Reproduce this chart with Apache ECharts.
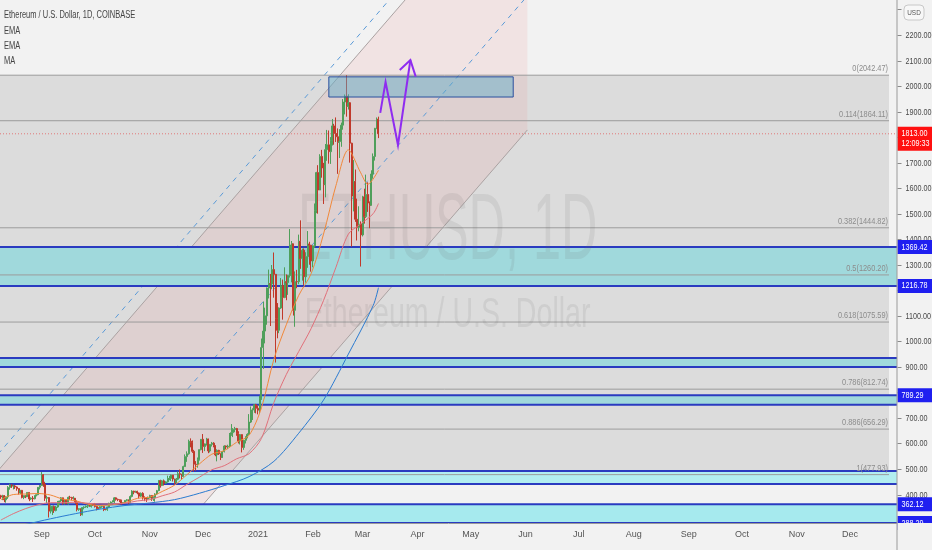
<!DOCTYPE html>
<html><head><meta charset="utf-8">
<script src="https://cdn.jsdelivr.net/npm/echarts@6/dist/echarts.min.js"></script>
<style>html,body{margin:0;padding:0;background:#f2f2f2}#c{width:932px;height:550px}</style>
</head><body><div id="c"></div>
<script>
// ---------- data ----------
const monthNames = ['Jan','Feb','Mar','Apr','May','Jun','Jul','Aug','Sep','Oct','Nov','Dec'];
const firstDate = '2020-08-09';
const dayCount = 506;
const firstOpen = 395;
// daily [high, low, close]; open = previous close
const aug2020 = [[399,383,390.5],[399,378,395.0],[398,370,379.5],[393,368,390.4],[433,383,428.0],[442,419,437.4],[440,426,433.4],[438,420,433.6],[437,422,429.6],[432,415,423.2],[424,400,406.4],[418,402,416.4],[418,385,388.5],[396,382,395.9],[397,386,391.5],[409,391,408.1],[408,374,382.5],[389,379,386.1],[394,371,383.4],[397,381,395.7],[401,393,399.4],[429,397,428.4],[437,420,435.2]];
const sep2020 = [[488,434,477.1],[480,430,440.3],[450,375,385.6],[396,367,388.3],[390,310,335.0],[358,326,352.7],[356,320,353.2],[357,328,337.6],[355,334,351.2],[375,348,368.1],[376,360,374.7],[390,371,387.2],[388,360,366.0],[381,361,377.2],[380,362,364.8],[392,360,389.1],[395,380,388.6],[391,377,384.6],[393,380,385.4],[386,363,370.4],[377,334,341.8],[346,336,344.5],[346,316,321.2],[350,318,349.0],[354,342,351.3],[357,348,354.3],[359,347,357.1],[364,352,354.3],[361,349,359.8],[362,355,359.7]];
const oct2020 = [[367,349,353.2],[356,338,346.3],[350,344,346.1],[354,345,352.5],[355,348,352.9],[355,335,341.3],[344,338,341.2],[353,336,351.3],[368,348,365.3],[373,363,370.4],[377,369,375.2],[390,367,387.0],[389,376,381.2],[384,374,379.7],[381,370,377.3],[380,360,366.5],[370,365,368.2],[378,367,377.1],[382,373,379.5],[380,362,368.0],[397,366,392.4],[417,389,413.4],[415,401,409.3],[415,407,412.3],[415,401,406.2],[408,385,393.6],[408,390,404.6],[409,380,388.3],[393,374,386.6],[390,371,382.6],[392,380,386.1]];
const nov2020 = [[399,385,396.4],[397,375,383.2],[393,375,387.5],[405,372,402.1],[418,398,415.2],[457,413,454.2],[458,427,435.3],[457,433,453.5],[459,435,444.2],[452,442,449.6],[474,447,462.6],[473,456,463.0],[478,453,475.9],[475,451,460.7],[462,440,447.2],[465,445,459.7],[490,456,481.6],[498,463,479.4],[481,460,471.3],[513,470,509.6],[557,508,548.6],[569,528,559.6],[615,556,608.6],[620,585,603.9],[612,563,569.2],[575,490,518.8],[531,493,517.6],[545,505,538.2],[577,533,575.8],[617,573,616.4]];
const dec2020 = [[637,563,588.0],[600,570,598.4],[622,592,617.4],[619,562,570.8],[598,565,596.4],[606,588,601.4],[605,585,591.8],[593,550,555.5],[577,530,573.1],[575,555,559.8],[561,535,545.7],[570,543,568.3],[593,565,590.0],[592,577,586.4],[595,578,589.1],[641,585,636.2],[676,630,642.4],[660,625,654.8],[665,644,658.4],[661,630,638.2],[648,600,609.8],[637,596,634.7],[636,565,584.3],[614,575,612.4],[628,600,626.4],[640,620,635.8],[715,632,683.8],[745,680,731.5],[738,692,732.6],[754,720,751.6],[755,718,737.8]];
const jan2021 = [[749,714,730.4],[787,715,774.6],[1011,771,975.5],[1156,892,1040.2],[1132,992,1100.0],[1211,1065,1208.8],[1281,1168,1225.7],[1264,1060,1224.9],[1299,1204,1281.0],[1348,1171,1262.5],[1264,917,1090.1],[1150,1012,1043.4],[1133,1032,1130.7],[1248,1127,1218.9],[1242,1085,1171.8],[1290,1169,1233.5],[1262,1161,1230.2],[1260,1182,1257.6],[1440,1250,1377.6],[1393,1231,1382.2],[1382,1101,1121.6],[1274,1057,1234.1],[1280,1208,1233.9],[1418,1224,1391.6],[1474,1284,1324.4],[1363,1238,1357.1],[1364,1221,1253.2],[1349,1230,1331.9],[1432,1288,1381.2],[1390,1300,1376.8],[1378,1273,1314.9]];
const feb2021 = [[1376,1290,1374.2],[1540,1366,1511.6],[1664,1502,1661.0],[1690,1500,1592.6],[1733,1595,1724.5],[1750,1641,1679.1],[1699,1538,1613.9],[1773,1564,1750.9],[1828,1707,1769.7],[1826,1696,1743.0],[1800,1695,1785.6],[1871,1767,1843.8],[1852,1770,1814.1],[1877,1781,1801.4],[1834,1656,1779.4],[1831,1718,1782.5],[1857,1762,1846.8],[1949,1829,1937.4],[1967,1889,1960.2],[2042,1880,1920.6],[1968,1908,1934.7],[1937,1700,1776.1],[1778,1371,1569.3],[1710,1509,1625.9],[1673,1468,1478.2],[1559,1395,1446.8],[1529,1431,1459.3],[1470,1293,1417.0]];
const mar2021 = [[1570,1411,1565.6],[1598,1461,1488.6],[1653,1483,1575.2],[1623,1507,1541.9],[1548,1443,1532.6],[1670,1532,1655.4],[1736,1637,1724.1],[1836,1708,1834.4],[1877,1831,1870.0],[1880,1796,1813.0]];

// moving averages, [date, value]
const emaFast = [['2020-08-09',380],['2020-08-16',400],['2020-08-23',402],['2020-08-30',404],['2020-09-06',398],['2020-09-13',382],['2020-09-20',376],['2020-09-27',362],['2020-10-04',357],['2020-10-11',360],['2020-10-18',368],['2020-10-25',385],['2020-11-01',390],['2020-11-08',412],['2020-11-15',437],['2020-11-22',478],['2020-11-29',520],['2020-12-06',558],['2020-12-13',572],['2020-12-20',605],['2020-12-27',632],['2021-01-03',740],['2021-01-10',930],['2021-01-17',1065],['2021-01-24',1180],['2021-01-31',1265],['2021-02-07',1420],['2021-02-14',1610],['2021-02-21',1750],['2021-02-28',1660],['2021-03-04',1615],['2021-03-10',1670]];
const emaSlow = [['2020-08-09',300],['2020-08-16',325],['2020-08-23',345],['2020-08-30',360],['2020-09-06',368],['2020-09-13',368],['2020-09-20',370],['2020-09-27',366],['2020-10-04',363],['2020-10-11',363],['2020-10-18',366],['2020-10-25',375],['2020-11-01',380],['2020-11-08',395],['2020-11-15',410],['2020-11-22',440],['2020-11-29',468],['2020-12-06',497],['2020-12-13',513],['2020-12-20',540],['2020-12-27',560],['2021-01-03',620],['2021-01-10',760],['2021-01-17',870],['2021-01-24',960],['2021-01-31',1050],['2021-02-07',1160],['2021-02-14',1290],['2021-02-21',1420],['2021-02-28',1460],['2021-03-07',1500],['2021-03-10',1540]];
const maLong = [['2020-08-09',262],['2020-08-23',283],['2020-09-06',305],['2020-09-20',325],['2020-10-04',343],['2020-10-18',357],['2020-11-01',367],['2020-11-15',380],['2020-11-29',405],['2020-12-13',435],['2020-12-27',470],['2021-01-10',530],['2021-01-24',640],['2021-02-07',770],['2021-02-21',950],['2021-03-07',1140],['2021-03-10',1210]];

// fibonacci retracement
const fibRatios = ['0','0.114','0.382','0.5','0.618','0.786','0.886','1'];
const fibPrices = [2042.47,1864.11,1444.82,1260.20,1075.59,812.74,656.29,477.93];
const fibEnd = '2021-12-23';
// support/resistance zones [top, bottom]
const zones = [[1369.42,1216.78],[935,900],[789.29,752],[492,441],[362.12,288.29]];
const zoneFills = ['#a0d9dc','#a0d9dc','#a0d9dc','#b2eef0','#a6eaee'];
// price tags on the axis
const tagPrices = [1369.42,1216.78,789.29,362.12,288.29];
const lastPrice = 1813.00, lastTime = '12:09:33';
const yTicks = [400,500,600,700,800,900,1000,1100,1200,1300,1400,1500,1600,1700,1800,1900,2000,2100,2200,2300];
// drawings
const targetBox = [['2021-02-10',2036],['2021-05-25',1957]];
const pathPoints = [['2021-03-11',1895],['2021-03-14',2016],['2021-03-21',1769],['2021-03-28',2102]];
const arrowBarbs = [['2021-03-22',2063],['2021-03-31',2037]];
// channel lines (two anchors each) and channel end date
const chLower = [['2020-11-22',288],['2021-06-02',1828]];
const chMiddle = [['2020-09-18',288],['2021-05-31',2337]];
const chUpper = [['2020-07-20',346],['2021-03-25',2337]];
const upperDash = [['2020-08-09',571],['2021-03-16',2337]];
const chEnd = '2021-06-02';
// watermark anchors
const wmMain = ['2021-04-18',1425], wmSub = ['2021-04-18',1103];

// ---------- build ----------
const DAY0 = Date.UTC(2020,7,9);
function idxOf(s){const p=s.split('-').map(Number);return Math.round((Date.UTC(p[0],p[1]-1,p[2])-DAY0)/86400000);}
const categories=[];
for(let i=0;i<dayCount;i++){const d=new Date(DAY0+i*86400000);categories.push(d.toISOString().slice(0,10));}
const candles=[];
let prev=firstOpen;
[aug2020,sep2020,oct2020,nov2020,dec2020,jan2021,feb2021,mar2021].forEach(m=>m.forEach(r=>{candles.push([prev,r[2],r[1],r[0]]);prev=r[2];}));
const toXY = a=>a.map(p=>[idxOf(p[0]),p[1]]);
const XMIN=-0.5, XMAX=dayCount-0.5;
function lineAt(l, x){const a=[idxOf(l[0][0]),l[0][1]],b=[idxOf(l[1][0]),l[1][1]];return a[1]+(b[1]-a[1])*(x-a[0])/(b[0]-a[0]);}

const chart = echarts.init(document.getElementById('c'));
const F = '"Liberation Sans",Arial,sans-serif';
const GRID = {left:0,right:35,top:0,bottom:27};

function bg(render, z){return {type:'custom',xAxisIndex:1,yAxisIndex:0,clip:true,z:z,silent:true,data:[0],renderItem:render};}

const series = [];
// fib fill
series.push(bg((p,api)=>{
  const a=api.coord([XMIN,fibPrices[0]]), b=api.coord([idxOf(fibEnd),fibPrices[fibPrices.length-1]]);
  return {type:'rect',shape:{x:a[0],y:a[1],width:b[0]-a[0],height:b[1]-a[1]},style:{fill:'#dcdcdc'}};
},1));
// channel fill + lines
series.push(bg((p,api)=>{
  const e=idxOf(chEnd), L=XMIN-60;
  const pts=[[L,lineAt(chUpper,L)],[e,lineAt(chUpper,e)],[e,lineAt(chLower,e)],[L,lineAt(chLower,L)]].map(q=>api.coord(q));
  const seg=(l,dash,col,x2)=>{const s=api.coord([L,lineAt(l,L)]),t=api.coord([x2,lineAt(l,x2)]);return {type:'line',shape:{x1:s[0],y1:s[1],x2:t[0],y2:t[1]},style:{stroke:col,lineWidth:1,lineDash:dash}};};
  return {type:'group',children:[
    {type:'polygon',shape:{points:pts},style:{fill:'rgba(235,150,150,0.16)'}},
    seg(chUpper,null,'#aaa2a2',e), seg(chLower,null,'#aaa2a2',e), seg(chMiddle,[5,5],'#5b9bd8',e), seg(upperDash,[5,5],'#5b9bd8',e)
  ]};
},1));
// zones
series.push(bg((p,api)=>{
  const ch=[];
  zones.forEach((z,i)=>{
    const a=api.coord([XMIN,z[0]]), b=api.coord([XMAX,z[1]]);
    ch.push({type:'rect',shape:{x:a[0],y:a[1],width:b[0]-a[0],height:b[1]-a[1]},style:{fill:zoneFills[i]}});
    ch.push({type:'line',shape:{x1:a[0],y1:a[1],x2:b[0],y2:a[1]},style:{stroke:'#2a3bc0',lineWidth:2}});
    ch.push({type:'line',shape:{x1:a[0],y1:b[1],x2:b[0],y2:b[1]},style:{stroke:'#2a3bc0',lineWidth:2}});
  });
  return {type:'group',children:ch};
},1));
// fib lines + labels
series.push(bg((p,api)=>{
  const ch=[];
  fibPrices.forEach((v,i)=>{
    const a=api.coord([XMIN,v]), b=api.coord([idxOf(fibEnd),v]);
    ch.push({type:'line',shape:{x1:a[0],y1:a[1],x2:b[0],y2:b[1]},style:{stroke:'#9c9c9c',lineWidth:1}});
    ch.push({type:'text',x:b[0]-1,y:b[1]-2,scaleX:0.82,style:{text:fibRatios[i]+'('+v.toFixed(2)+')',x:0,y:0,align:'right',verticalAlign:'bottom',fill:'#8c8c8c',font:'9px '+F}});
  });
  return {type:'group',children:ch};
},1));
// watermark
series.push(bg((p,api)=>{
  const c1=api.coord([idxOf(wmMain[0]),wmMain[1]]), c2=api.coord([idxOf(wmSub[0]),wmSub[1]]);
  return {type:'group',children:[
    {type:'text',x:c1[0],y:c1[1],scaleX:0.53,style:{text:'ETHUSD, 1D',x:0,y:0,align:'center',verticalAlign:'middle',fill:'rgba(110,110,110,0.12)',font:'95px '+F}},
    {type:'text',x:c2[0],y:c2[1],scaleX:0.68,style:{text:'Ethereum / U.S. Dollar',x:0,y:0,align:'center',verticalAlign:'middle',fill:'rgba(110,110,110,0.12)',font:'42px '+F}}
  ]};
},1));
// current price dotted line
series.push(bg((p,api)=>{
  const a=api.coord([XMIN,lastPrice]), b=api.coord([XMAX,lastPrice]);
  return {type:'line',shape:{x1:a[0],y1:a[1],x2:b[0],y2:b[1]},style:{stroke:'#e07a7a',lineWidth:1,lineDash:[1,2]}};
},2));
// candles
series.push({type:'candlestick',xAxisIndex:0,yAxisIndex:0,z:3,barWidth:1.5,data:candles,
  itemStyle:{color:'#4f9f5b',color0:'#c0392b',borderColor:'#4f9f5b',borderColor0:'#c0392b',borderWidth:1}});
// MAs
[[emaFast,'#f0883a'],[emaSlow,'#e0707a'],[maLong,'#2b7bd0']].forEach(([d,c])=>{
  series.push({type:'line',xAxisIndex:1,yAxisIndex:0,z:4,data:toXY(d),smooth:0.3,showSymbol:false,symbol:'none',lineStyle:{color:c,width:1},clip:true,silent:true});
});
// box + purple path
series.push(bg((p,api)=>{
  const a=api.coord([idxOf(targetBox[0][0]),targetBox[0][1]]), b=api.coord([idxOf(targetBox[1][0]),targetBox[1][1]]);
  const pts=pathPoints.map(q=>api.coord([idxOf(q[0]),q[1]]));
  const tip=pts[pts.length-1];
  const barbs=arrowBarbs.map(q=>api.coord([idxOf(q[0]),q[1]]));
  return {type:'group',children:[
    {type:'rect',shape:{x:a[0],y:a[1],width:b[0]-a[0],height:b[1]-a[1]},style:{fill:'rgba(90,170,200,0.45)',stroke:'#2b4f9e',lineWidth:1}},
    {type:'polyline',shape:{points:pts},style:{stroke:'#8f2cf0',lineWidth:2,fill:null}},
    {type:'polyline',shape:{points:[barbs[0],tip,barbs[1]]},style:{stroke:'#8f2cf0',lineWidth:2,fill:null}}
  ]};
},5));
// y-axis ticks, labels and price tags (outside the grid)
series.push({type:'custom',xAxisIndex:1,yAxisIndex:0,clip:false,z:10,silent:true,data:[0],renderItem:(p,api)=>{
  const ch=[]; const x0=api.coord([XMAX,0])[0]+0.5; const yBottom=api.coord([XMAX,288.5])[1];
  yTicks.forEach(v=>{const y=Math.round(api.coord([XMAX,v])[1])+0.5;
    ch.push({type:'line',shape:{x1:x0,y1:y,x2:x0+4,y2:y},style:{stroke:'#8a8a8a',lineWidth:1}});
    ch.push({type:'text',x:x0+8,y:y,scaleX:0.8,style:{text:v.toFixed(2),x:0,y:0,verticalAlign:'middle',fill:'#4a4a4a',font:'9px '+F}});
  });
  tagPrices.forEach(v=>{const y=api.coord([XMAX,v])[1];
    ch.push({type:'rect',shape:{x:x0,y:y-7,width:40,height:14},style:{fill:'#1f1ff0'}});
    ch.push({type:'text',x:x0+4,y:y,scaleX:0.8,style:{text:v.toFixed(2),x:0,y:0,verticalAlign:'middle',fill:'#fff',font:'9px '+F}});
  });
  const y=api.coord([XMAX,lastPrice])[1];
  ch.push({type:'rect',shape:{x:x0,y:y-7,width:40,height:24},style:{fill:'#ff1010'}});
  ch.push({type:'text',x:x0+4,y:y,scaleX:0.8,style:{text:lastPrice.toFixed(2),x:0,y:0,verticalAlign:'middle',fill:'#fff',font:'9px '+F}});
  ch.push({type:'text',x:x0+4,y:y+10,scaleX:0.8,style:{text:lastTime,x:0,y:0,verticalAlign:'middle',fill:'#fff',font:'9px '+F}});
  // cover below the plot, keep axis line going down
  ch.push({type:'rect',shape:{x:x0,y:yBottom,width:40,height:40},style:{fill:'#f2f2f2'}});
  ch.push({type:'line',shape:{x1:x0-0.5,y1:0,x2:x0-0.5,y2:550},style:{stroke:'#9a9a9a',lineWidth:1}});
  return {type:'group',children:ch};
}});

chart.setOption({
  backgroundColor:'#f2f2f2',
  animation:false,
  grid:Object.assign({containLabel:false,outerBoundsMode:'none'},GRID),
  xAxis:[{type:'category',data:categories,boundaryGap:true,
      axisLine:{lineStyle:{color:'#9a9a9a'}},
      axisTick:{alignWithLabel:true,interval:(i,v)=>v.slice(8)==='01',length:4,lineStyle:{color:'#9a9a9a'}},
      axisLabel:{interval:(i,v)=>v.slice(8)==='01',color:'#555',fontSize:9,fontFamily:F,margin:7,
        formatter:v=>{const m=+v.slice(5,7);return m===1?v.slice(0,4):monthNames[m-1];}},
      splitLine:{show:false}},
    {type:'value',min:XMIN,max:XMAX,show:false}],
  yAxis:[{type:'value',position:'right',min:288.5,max:2337,
    axisLine:{show:false},axisTick:{show:false},axisLabel:{show:false},splitLine:{show:false}}],
  graphic:[
    {type:'text',x:4,y:15,scaleX:0.75,z:100,style:{text:'Ethereum / U.S. Dollar, 1D, COINBASE',x:0,y:0,verticalAlign:'middle',fill:'#444',font:'10px '+F}},
    {type:'text',x:4,y:31,scaleX:0.75,z:100,style:{text:'EMA',x:0,y:0,verticalAlign:'middle',fill:'#444',font:'10px '+F}},
    {type:'text',x:4,y:46,scaleX:0.75,z:100,style:{text:'EMA',x:0,y:0,verticalAlign:'middle',fill:'#444',font:'10px '+F}},
    {type:'text',x:4,y:61,scaleX:0.75,z:100,style:{text:'MA',x:0,y:0,verticalAlign:'middle',fill:'#444',font:'10px '+F}},
    {type:'rect',x:904,y:2,z:100,shape:{width:28,height:18},style:{fill:'#f2f2f2'}},
    {type:'rect',x:904,y:5,z:101,shape:{width:20,height:15,r:4},style:{fill:'#f7f7f7',stroke:'#c8c8c8'}},
    {type:'text',x:914,y:12.5,z:102,scaleX:0.8,style:{text:'USD',x:0,y:0,align:'center',verticalAlign:'middle',fill:'#555',font:'8px '+F}}
  ],
  series:series
});
</script></body></html>
